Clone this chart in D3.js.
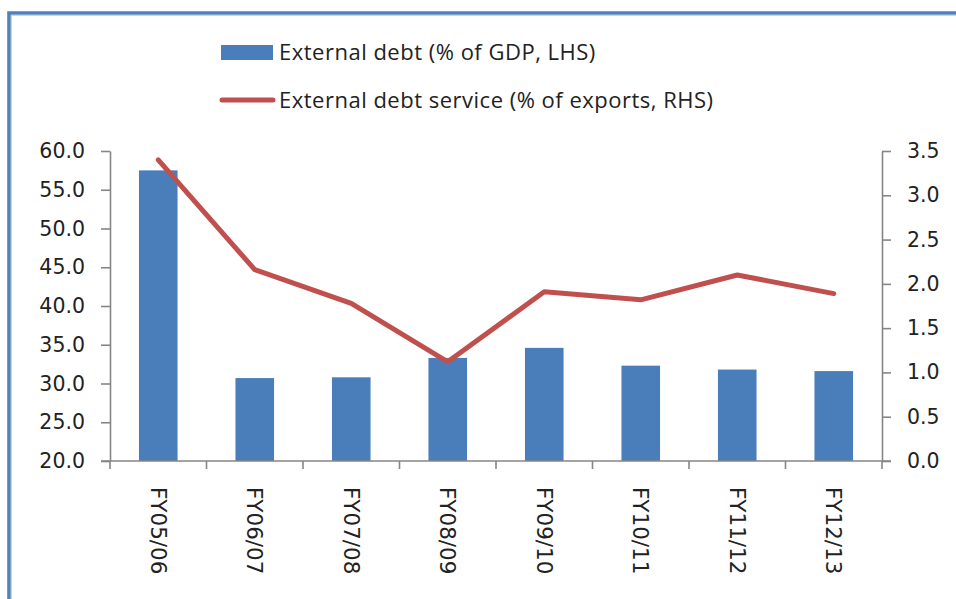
<!DOCTYPE html>
<html>
<head>
<meta charset="utf-8">
<script src="https://cdn.jsdelivr.net/npm/d3@7"></script>
<style>
  html, body { margin: 0; padding: 0; background: #fff; }
  svg { display: block; }
</style>
</head>
<body>
<script>
// Fiscal years shown on the category axis
const categories = ["FY05/06", "FY06/07", "FY07/08", "FY08/09", "FY09/10", "FY10/11", "FY11/12", "FY12/13"];
// External debt, % of GDP (left axis, bars)
const debtPctGdp = [57.5, 30.7, 30.8, 33.3, 34.6, 32.3, 31.8, 31.6];
// External debt service, % of exports (right axis, line)
const debtServicePctExports = [3.4, 2.16, 1.78, 1.12, 1.91, 1.82, 2.10, 1.89];
// Axis ticks
const leftTicks = [20, 25, 30, 35, 40, 45, 50, 55, 60];
const rightTicks = [0, 0.5, 1, 1.5, 2, 2.5, 3, 3.5];
// Legend entries
const legendLabels = ["External debt (% of GDP, LHS)", "External debt service (% of exports, RHS)"];

const W = 956, H = 599;
const plot = { left: 110, right: 882, top: 151, bottom: 461 };
const barColor = "#4a7ebb";
const lineColor = "#c0504d";
const axisColor = "#868686";
const textColor = "#222";
const tickFont = "'DejaVu Sans', Verdana, sans-serif";
const legendFont = "'Open Sans', Lato, sans-serif";

const svg = d3.select("body").append("svg").attr("width", W).attr("height", H);

// Frame around the chart area
svg.append("path")
  .attr("d", `M${9},${H + 5} L${9},${13} L${W + 5},${13}`)
  .attr("fill", "none").attr("stroke", "#4f81bd").attr("stroke-width", 3.6);
svg.append("path")
  .attr("d", `M${11.3},${H + 5} L${11.3},${15.3} L${W + 5},${15.3}`)
  .attr("fill", "none").attr("stroke", "#b3c9e6").attr("stroke-width", 1);

const x = d3.scaleBand().domain(categories).range([plot.left, plot.right])
  .paddingInner(0.6).paddingOuter(0.3);
const yL = d3.scaleLinear().domain([20, 60]).range([plot.bottom, plot.top]);
const yR = d3.scaleLinear().domain([0, 3.5]).range([plot.bottom, plot.top]);

// Bars
svg.append("g").selectAll("rect").data(debtPctGdp).join("rect")
  .attr("x", (d, i) => x(categories[i]))
  .attr("y", d => yL(d))
  .attr("width", x.bandwidth())
  .attr("height", d => yL(20) - yL(d))
  .attr("fill", barColor);

// Left axis
const gL = svg.append("g").attr("transform", `translate(${plot.left},0)`)
  .call(d3.axisLeft(yL).tickValues(leftTicks).tickFormat(d3.format(".1f"))
    .tickSize(9).tickSizeOuter(0).tickPadding(16));
// Right axis
const gR = svg.append("g").attr("transform", `translate(${plot.right},0)`)
  .call(d3.axisRight(yR).tickValues(rightTicks).tickFormat(d3.format(".1f"))
    .tickSize(9).tickSizeOuter(0).tickPadding(16));

[gL, gR].forEach(g => {
  g.select(".domain").attr("stroke", axisColor).attr("stroke-width", 1.6);
  g.selectAll(".tick line").attr("stroke", axisColor).attr("stroke-width", 1.6);
  g.selectAll(".tick text").attr("fill", textColor)
    .style("font-family", tickFont).style("font-size", "20.5px");
});

// Category axis: baseline, boundary ticks and rotated labels
const gX = svg.append("g");
gX.append("line")
  .attr("x1", plot.left - 9).attr("x2", plot.right + 9)
  .attr("y1", plot.bottom).attr("y2", plot.bottom)
  .attr("stroke", axisColor).attr("stroke-width", 1.6);
const step = x.step();
const boundaries = categories.map(c => x(c) - step * x.paddingInner() / 2);
boundaries[0] = plot.left;
boundaries.push(plot.right);
gX.selectAll("line.b").data(boundaries).join("line").attr("class", "b")
  .attr("x1", d => d).attr("x2", d => d)
  .attr("y1", plot.bottom).attr("y2", plot.bottom + 8)
  .attr("stroke", axisColor).attr("stroke-width", 1.6);
gX.selectAll("text").data(categories).join("text")
  .attr("transform", d => `translate(${x(d) + x.bandwidth() / 2},${plot.bottom + 26}) rotate(90)`)
  .attr("dy", "0.36em")
  .attr("text-anchor", "start")
  .attr("fill", textColor)
  .style("font-family", tickFont).style("font-size", "21.5px")
  .text(d => d);

// Debt service line
const line = d3.line()
  .x((d, i) => x(categories[i]) + x.bandwidth() / 2)
  .y(d => yR(d));
svg.append("path").datum(debtServicePctExports)
  .attr("d", line)
  .attr("fill", "none").attr("stroke", lineColor)
  .attr("stroke-width", 5).attr("stroke-linejoin", "round").attr("stroke-linecap", "round");

// Legend
const lg = svg.append("g");
lg.append("rect").attr("x", 221).attr("y", 45).attr("width", 52).attr("height", 15).attr("fill", barColor);
lg.append("line").attr("x1", 222).attr("x2", 273).attr("y1", 100).attr("y2", 100)
  .attr("stroke", lineColor).attr("stroke-width", 5).attr("stroke-linecap", "round");
lg.selectAll("text").data(legendLabels).join("text")
  .attr("x", 279).attr("y", (d, i) => i === 0 ? 60 : 108)
  .attr("fill", textColor)
  .style("font-family", legendFont).style("font-size", "22px")
  .style("letter-spacing", "0.5px")
  .text(d => d);
</script>
</body>
</html>
